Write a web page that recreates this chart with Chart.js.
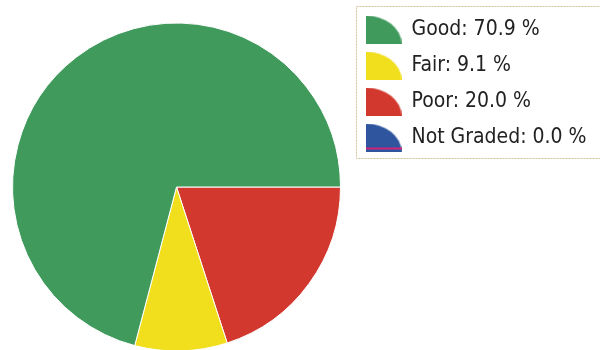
<!DOCTYPE html>
<html>
<head>
<meta charset="utf-8">
<script src="https://cdn.jsdelivr.net/npm/chart.js@4"></script>
<style>
  html, body { margin: 0; padding: 0; background: #ffffff; width: 600px; height: 350px; overflow: hidden; }
  #wrap { position: absolute; left: 0; top: 0; width: 600px; height: 374px; }
</style>
</head>
<body>
<div id="wrap"><canvas id="c"></canvas></div>
<script>
// ---- data ----
const categories = ['Good', 'Fair', 'Poor', 'Not Graded'];
const values = [70.9, 9.1, 20.0, 0.0];
const colors = ['#3f9a5c', '#f1df1e', '#d2382e', '#2f559e'];

// slices run counter-clockwise from 3 o'clock in the reference:
// feed Chart.js (clockwise) the reversed order, reverse legend back
const chartLabels = categories.slice().reverse();
const chartValues = values.slice().reverse();
const chartColors = colors.slice().reverse();

function makeIcon(color, pinkLine) {
  const w = 36, h = 28;
  const cv = document.createElement('canvas');
  cv.width = w; cv.height = h;
  const g = cv.getContext('2d');
  g.fillStyle = color;
  g.beginPath();
  g.moveTo(0, h);
  g.lineTo(0, 0);
  g.ellipse(0, h, w, h, 0, -Math.PI / 2, 0, false);
  g.closePath();
  g.fill();
  if (pinkLine) {
    g.fillStyle = '#d0237a';
    g.fillRect(0, h - 4, w, 2);
  }
  return cv;
}

const legendBorder = {
  id: 'legendBorder',
  beforeInit(chart) {
    const lg = chart.legend;
    if (lg) {
      const orig = lg.fit.bind(lg);
      lg.fit = function () { orig(); this.width = 249; };
    }
  },
  afterDraw(chart) {
    const ctx = chart.ctx;
    ctx.save();
    ctx.strokeStyle = '#d3c197';
    ctx.lineWidth = 1;
    ctx.setLineDash([2, 1]);
    ctx.strokeRect(356.5, 6.5, 250, 152);
    ctx.restore();
  }
};

const fontFam = "'DejaVu Sans Condensed', 'Liberation Sans', Arial, sans-serif";

new Chart(document.getElementById('c'), {
  type: 'pie',
  data: {
    labels: chartLabels,
    datasets: [{
      data: chartValues,
      backgroundColor: chartColors,
      borderColor: '#ffffff',
      borderWidth: 1,
      radius: 164
    }]
  },
  options: {
    responsive: true,
    maintainAspectRatio: false,
    animation: false,
    rotation: 90,
    layout: { padding: { left: 2, top: 4, bottom: 4, right: 0 } },
    plugins: {
      tooltip: { enabled: false },
      legend: {
        position: 'right',
        align: 'start',
        reverse: true,
        labels: {
          usePointStyle: true,
          pointStyleWidth: 35,
          padding: 15,
          color: '#222222',
          font: { family: fontFam, size: 21 },
          generateLabels(chart) {
            const base = Chart.overrides.doughnut.plugins.legend.labels.generateLabels(chart);
            return base.map(it => {
              const v = chart.data.datasets[0].data[it.index];
              const name = chart.data.labels[it.index];
              it.text = name + ': ' + v.toFixed(1) + ' %';
              it.pointStyle = makeIcon(chartColors[it.index], name === 'Not Graded');
              return it;
            });
          }
        }
      }
    }
  },
  plugins: [legendBorder]
});
</script>
</body>
</html>
